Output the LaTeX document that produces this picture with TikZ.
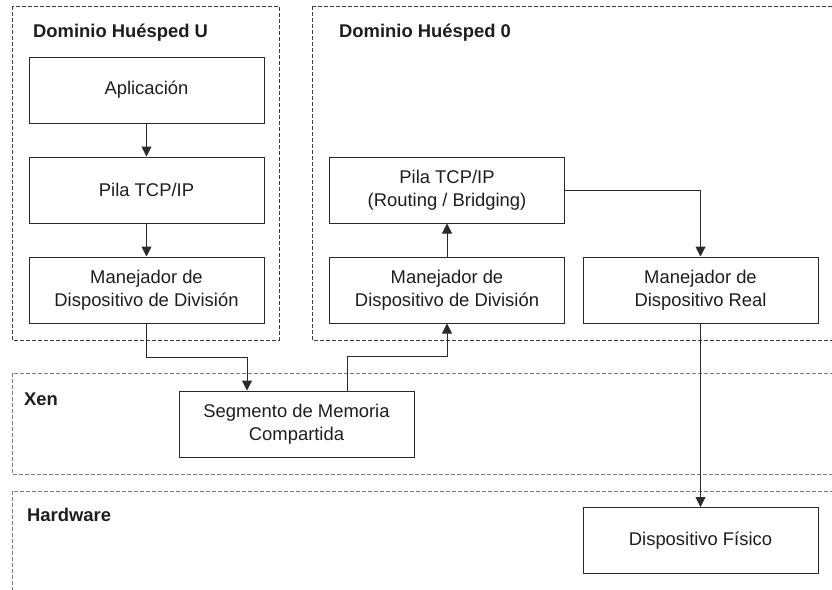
\documentclass[tikz,border=0pt]{standalone}
\usepackage{fontspec}
\setmainfont{Liberation Sans}
\usetikzlibrary{arrows.meta}
\definecolor{txt}{HTML}{1E1E1E}
\definecolor{boxline}{HTML}{2A2A2A}
\definecolor{dashdark}{HTML}{3C3C3C}
\definecolor{dashlight}{HTML}{7A7A7A}
\tikzset{
  block/.style={draw=boxline, line width=1pt, fill=white, minimum width=235pt, minimum height=66pt,
    inner sep=0pt, align=center, text=txt, font=\fontsize{18.4}{22.5}\selectfont},
  heading/.style={anchor=base west, inner sep=0pt, text=txt, font=\fontsize{18.4}{22}\selectfont\bfseries},
  region/.style={dash pattern=on 4pt off 2pt, line width=1pt},
  arr/.style={draw=boxline, line width=1pt, -{Triangle[length=10pt,width=10pt]}},
}
\begin{document}
\begin{tikzpicture}[x=1pt,y=-1pt]
\useasboundingbox (0,0) rectangle (832,589);
\clip (0,0) rectangle (832,589);
\fill[white] (0,0) rectangle (832,589);
% regions
\draw[region, draw=dashdark] (12,6) rectangle (279,340);
\draw[region, draw=dashdark] (312,6) rectangle (850,340);
\draw[region, draw=dashlight] (12,373) rectangle (850,474);
\draw[region, draw=dashlight] (12,491) rectangle (850,610);
% headings
\node[heading] (hU) at (33,37) {Dominio Huésped U};
\node[heading] (h0) at (339,37) {Dominio Huésped 0};
\node[heading] (hX) at (24,405) {Xen};
\node[heading] (hH) at (27,521) {Hardware};
% blocks
\node[block] (app) at (146.5,90) {Aplicación};
\node[block] (pilaU) at (146.5,190) {Pila TCP/IP};
\node[block] (manU) at (146.5,290) {Manejador de\\Dispositivo de División};
\node[block] (pila0) at (447,190) {Pila TCP/IP\\(Routing / Bridging)};
\node[block] (man0) at (447,290) {Manejador de\\Dispositivo de División};
\node[block] (real) at (700.5,290) {Manejador de\\Dispositivo Real};
\node[block] (seg) at (296.5,424) {Segmento de Memoria\\Compartida};
\node[block] (fis) at (700.5,540.5) {Dispositivo Físico};
% connectors
\draw[arr] (app) -- (pilaU);
\draw[arr] (pilaU) -- (manU);
\draw[arr] (manU.south) -- ++(0,34) -| ([xshift=-49.5pt]seg.north);
\draw[arr] ([xshift=50.5pt]seg.north) -- ++(0,-34) -| (man0.south);
\draw[arr] (man0) -- (pila0);
\draw[arr] (pila0.east) -| (real.north);
\draw[arr] (real) -- (fis);
\end{tikzpicture}
\end{document}
